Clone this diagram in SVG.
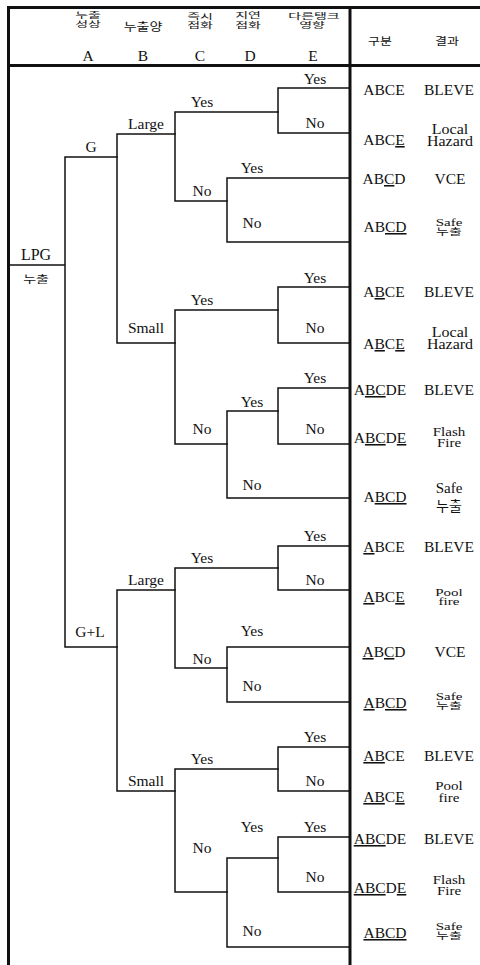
<svg xmlns="http://www.w3.org/2000/svg" width="480" height="965" viewBox="0 0 480 965">
<style>
.ln{stroke:#111;stroke-width:1.5;fill:none;stroke-linecap:square}
.bd{stroke:#111;stroke-width:3;fill:none}
.t{font-family:"Liberation Serif","Times New Roman","DejaVu Serif",serif;font-size:15.5px;fill:#111;text-anchor:middle}
.r{font-family:"Liberation Serif","Times New Roman","DejaVu Serif",serif;font-size:15.5px;fill:#111;text-anchor:middle}
.s{font-family:"Liberation Serif","Times New Roman","DejaVu Serif",serif;font-size:15px;fill:#111;text-anchor:middle}
.k{font-family:"Noto Sans CJK KR",sans-serif;font-size:14px;fill:#111;text-anchor:middle}
.u{text-decoration:underline}
</style>
<rect width="480" height="965" fill="#fff"/>
<g id="frame">
<path class="bd" d="M8,7.5 H480 M8,65.5 H480 M350,7 V965"/>
<path class="bd" stroke-width="2.5" d="M8.5,6 V965"/>
</g>
<g id="header">
<text class="k" transform="matrix(1 0 0 0.55 88 18)">누출</text>
<text class="k" transform="matrix(1 0 0 0.55 88 26.5)">성상</text>
<text class="k" transform="matrix(1 0 0 0.85 143 31)">누출양</text>
<text class="k" transform="matrix(1 0 0 0.55 200 19)">즉시</text>
<text class="k" transform="matrix(1 0 0 0.55 200 28)">점화</text>
<text class="k" transform="matrix(1 0 0 0.55 248 18)">지연</text>
<text class="k" transform="matrix(1 0 0 0.55 248 28)">점화</text>
<text class="k" transform="matrix(1 0 0 0.55 314 19)">다른탱크</text>
<text class="k" transform="matrix(1 0 0 0.55 312 28)">영향</text>
<text class="k" style="font-size:13px" transform="matrix(1 0 0 0.8 380 45)">구분</text>
<text class="k" style="font-size:13px" transform="matrix(1 0 0 0.8 447 45)">결과</text>
<text class="t" x="88" y="61">A</text>
<text class="t" x="143" y="61">B</text>
<text class="t" x="200" y="61">C</text>
<text class="t" x="250" y="61">D</text>
<text class="t" x="313" y="61">E</text>
</g>
<g id="connectors">
<path class="ln" d="M9,265 H65 M65,157 V647 M65,157 H117 M65,647 H117"/>
<path class="ln" d="M117,134 V343 M117,134 H175 M117,343 H175"/>
<path class="ln" d="M175,112 V201 M175,112 H278 M175,201 H227"/>
<path class="ln" d="M278,88 V133 M278,88 H349 M278,133 H349"/>
<path class="ln" d="M227,178 V242 M227,178 H349 M227,242 H349"/>
<path class="ln" d="M175,310 V444 M175,310 H278 M175,444 H227"/>
<path class="ln" d="M278,287 V343 M278,287 H349 M278,343 H349"/>
<path class="ln" d="M227,411 V498 M227,411 H278 M227,498 H349"/>
<path class="ln" d="M278,388 V444 M278,388 H349 M278,444 H349"/>
<path class="ln" d="M117,590 V791 M117,590 H175 M117,791 H175"/>
<path class="ln" d="M175,568 V668 M175,568 H278 M175,668 H227"/>
<path class="ln" d="M278,546 V590 M278,546 H349 M278,590 H349"/>
<path class="ln" d="M227,647 V702 M227,647 H349 M227,702 H349"/>
<path class="ln" d="M175,769 V892 M175,769 H278 M175,892 H227"/>
<path class="ln" d="M278,747 V791 M278,747 H349 M278,791 H349"/>
<path class="ln" d="M227,858 V947 M227,858 H278 M227,947 H349"/>
<path class="ln" d="M278,837 V892 M278,837 H349 M278,892 H349"/>
</g>
<g id="node-root">
<text class="t" style="font-size:16px" x="36" y="260">LPG</text>
<text class="k" transform="matrix(1 0 0 0.7 36 283)">누출</text>
</g>
<g id="node-G"><text class="t" x="91" y="152">G</text></g>
<g id="node-GL"><text class="t" x="90" y="637">G+L</text></g>
<g id="node-G-large"><text class="t" x="146" y="129">Large</text></g>
<g id="node-G-small"><text class="t" x="146" y="333">Small</text></g>
<g id="node-GL-large"><text class="t" x="146" y="585">Large</text></g>
<g id="node-GL-small"><text class="t" x="146" y="786">Small</text></g>
<g id="labels-C">
<text class="t" x="202" y="107">Yes</text>
<text class="t" x="202" y="196">No</text>
<text class="t" x="202" y="305">Yes</text>
<text class="t" x="202" y="434">No</text>
<text class="t" x="202" y="563">Yes</text>
<text class="t" x="202" y="664">No</text>
<text class="t" x="202" y="764">Yes</text>
<text class="t" x="202" y="853">No</text>
</g>
<g id="labels-D">
<text class="t" x="252" y="173">Yes</text>
<text class="t" x="252" y="228">No</text>
<text class="t" x="252" y="407">Yes</text>
<text class="t" x="252" y="490">No</text>
<text class="t" x="252" y="636">Yes</text>
<text class="t" x="252" y="691">No</text>
<text class="t" x="252" y="832">Yes</text>
<text class="t" x="252" y="936">No</text>
</g>
<g id="labels-E">
<text class="t" x="315" y="84">Yes</text>
<text class="t" x="315" y="128">No</text>
<text class="t" x="315" y="283">Yes</text>
<text class="t" x="315" y="333">No</text>
<text class="t" x="315" y="383">Yes</text>
<text class="t" x="315" y="434">No</text>
<text class="t" x="315" y="541">Yes</text>
<text class="t" x="315" y="585">No</text>
<text class="t" x="315" y="742">Yes</text>
<text class="t" x="315" y="786">No</text>
<text class="t" x="315" y="832">Yes</text>
<text class="t" x="315" y="882">No</text>
</g>
<g id="outcome-1"><text class="r" x="384" y="95">ABCE</text><text class="r" x="449" y="95">BLEVE</text></g>
<g id="outcome-2"><text class="r" x="384" y="145">ABC<tspan class="u">E</tspan></text><text class="s" style="font-size:16px" transform="matrix(1 0 0 0.85 450 134)">Local</text><text class="s" style="font-size:16px" transform="matrix(1 0 0 0.85 450 146)">Hazard</text></g>
<g id="outcome-3"><text class="r" x="384" y="184">AB<tspan class="u">C</tspan>D</text><text class="r" x="450" y="184">VCE</text></g>
<g id="outcome-4"><text class="r" x="385" y="232">AB<tspan class="u">CD</tspan></text><text class="s" transform="matrix(1 0 0 0.75 449 226)">Safe</text><text class="k" transform="matrix(1 0 0 0.65 449 235)">누출</text></g>
<g id="outcome-5"><text class="r" x="384" y="297">A<tspan class="u">B</tspan>CE</text><text class="r" x="449" y="297">BLEVE</text></g>
<g id="outcome-6"><text class="r" x="384" y="349">A<tspan class="u">B</tspan>C<tspan class="u">E</tspan></text><text class="s" style="font-size:16px" transform="matrix(1 0 0 0.85 450 337)">Local</text><text class="s" style="font-size:16px" transform="matrix(1 0 0 0.85 450 349)">Hazard</text></g>
<g id="outcome-7"><text class="r" x="380" y="395">A<tspan class="u">BC</tspan>DE</text><text class="r" x="449" y="395">BLEVE</text></g>
<g id="outcome-8"><text class="r" x="380" y="443">A<tspan class="u">BC</tspan>D<tspan class="u">E</tspan></text><text class="s" transform="matrix(1 0 0 0.8 449 436)">Flash</text><text class="s" transform="matrix(1 0 0 0.8 449 447)">Fire</text></g>
<g id="outcome-9"><text class="r" x="385" y="502">A<tspan class="u">BCD</tspan></text><text class="s" x="449" y="493">Safe</text><text class="k" x="449" y="511">누출</text></g>
<g id="outcome-10"><text class="r" x="384" y="552"><tspan class="u">A</tspan>BCE</text><text class="r" x="449" y="552">BLEVE</text></g>
<g id="outcome-11"><text class="r" x="384" y="602"><tspan class="u">A</tspan>BC<tspan class="u">E</tspan></text><text class="s" transform="matrix(1 0 0 0.75 449 596)">Pool</text><text class="s" transform="matrix(1 0 0 0.75 449 605)">fire</text></g>
<g id="outcome-12"><text class="r" x="384" y="657"><tspan class="u">A</tspan>B<tspan class="u">C</tspan>D</text><text class="r" x="450" y="657">VCE</text></g>
<g id="outcome-13"><text class="r" x="385" y="708"><tspan class="u">A</tspan>B<tspan class="u">CD</tspan></text><text class="s" transform="matrix(1 0 0 0.75 449 700)">Safe</text><text class="k" transform="matrix(1 0 0 0.65 449 709)">누출</text></g>
<g id="outcome-14"><text class="r" x="384" y="761"><tspan class="u">AB</tspan>CE</text><text class="r" x="449" y="761">BLEVE</text></g>
<g id="outcome-15"><text class="r" x="384" y="802"><tspan class="u">AB</tspan>C<tspan class="u">E</tspan></text><text class="s" transform="matrix(1 0 0 0.8 449 790)">Pool</text><text class="s" transform="matrix(1 0 0 0.8 449 802)">fire</text></g>
<g id="outcome-16"><text class="r" x="380" y="844"><tspan class="u">ABC</tspan>DE</text><text class="r" x="449" y="844">BLEVE</text></g>
<g id="outcome-17"><text class="r" x="380" y="893"><tspan class="u">ABC</tspan>D<tspan class="u">E</tspan></text><text class="s" transform="matrix(1 0 0 0.8 449 884)">Flash</text><text class="s" transform="matrix(1 0 0 0.8 449 895)">Fire</text></g>
<g id="outcome-18"><text class="r" x="385" y="938"><tspan class="u">ABCD</tspan></text><text class="s" transform="matrix(1 0 0 0.75 449 930)">Safe</text><text class="k" transform="matrix(1 0 0 0.65 449 939)">누출</text></g>
</svg>
